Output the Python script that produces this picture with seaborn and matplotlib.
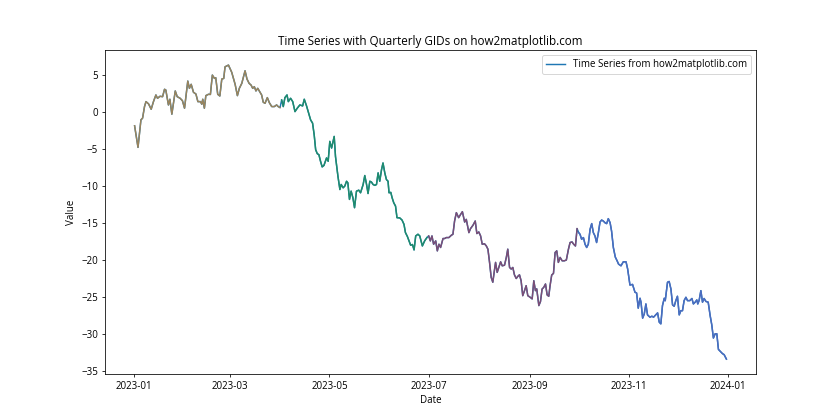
import matplotlib.pyplot as plt
import seaborn as sns
import pandas as pd

plt.rcParams['font.family'] = ['Open Sans', 'DejaVu Sans']

# day offsets from 2023-01-01 and values
day_offset = [
    0.2, 2.3, 4.1, 5.1, 6.3, 7.2, 8.8, 10.4, 11.8, 13.3, 14.3, 15.8, 17.4, 18.6, 19.4,
    21.0, 21.9, 23.1, 25.2, 26.4, 28.2, 29.6, 30.9, 32.9, 33.9, 35.0, 36.4, 37.9, 39.1,
    40.7, 41.5, 42.1, 43.1, 44.0, 45.6, 46.8, 48.0, 49.3, 50.1, 51.3, 52.6, 53.8, 55.0,
    55.8, 57.9, 59.9, 62.0, 63.4, 64.6, 66.1, 68.1, 69.3, 70.6, 71.8, 72.8, 73.8, 74.8,
    75.9, 77.1, 78.3, 79.3, 80.4, 81.8, 83.0, 84.5, 86.1, 87.5, 88.5, 89.6, 90.6, 91.6,
    92.6, 93.9, 94.7, 96.1, 97.4, 98.8, 100.2, 101.8, 103.5, 104.5, 105.9, 107.5, 108.4,
    109.6, 110.6, 111.5, 112.5, 113.5, 114.5, 115.5, 116.6, 118.2, 119.2, 120.2, 121.3,
    122.9, 123.7, 124.7, 125.2, 125.8, 126.4, 127.2, 128.4, 129.4, 130.5, 131.3, 132.3,
    133.3, 134.4, 135.4, 136.6, 138.0, 139.1, 140.7, 141.7, 142.8, 143.7, 144.8, 145.8,
    146.8, 147.9, 148.9, 149.9, 150.9, 152.0, 152.9, 154.0, 155.0, 156.0, 156.6, 157.7,
    158.5, 159.5, 160.6, 161.5, 163.2, 164.6, 165.8, 166.7, 167.9, 168.9, 169.9, 171.0,
    172.0, 173.0, 174.4, 175.5, 177.1, 178.5, 179.9, 181.0, 182.0, 183.0, 184.0, 185.3,
    186.3, 187.3, 188.3, 189.8, 190.8, 191.8, 193.4, 194.9, 195.9, 196.9, 198.0, 199.4,
    200.4, 201.7, 203.1, 204.1, 205.7, 206.7, 208.2, 209.6, 210.6, 211.8, 212.9, 213.9,
    215.3, 216.4, 217.4, 218.4, 219.4, 220.4, 221.5, 222.1, 223.1, 224.1, 225.2, 226.2,
    227.6, 228.7, 229.6, 230.7, 231.7, 232.7, 233.7, 234.8, 235.8, 236.8, 237.8, 238.8,
    239.9, 240.9, 241.9, 243.4, 244.6, 245.6, 246.6, 247.4, 248.7, 249.7, 250.7, 251.7,
    252.8, 253.8, 254.8, 255.6, 256.6, 257.7, 258.7, 259.7, 260.7, 261.8, 263.0, 264.4,
    265.6, 266.9, 267.9, 269.1, 270.1, 271.2, 272.2, 273.2, 274.0, 275.0, 276.1, 277.1,
    278.1, 279.1, 280.2, 281.2, 282.2, 283.2, 284.2, 285.3, 286.3, 287.3, 288.3, 289.6,
    290.4, 291.4, 292.5, 293.4, 294.5, 295.7, 296.8, 297.7, 299.2, 300.6, 302.3, 303.3,
    304.7, 306.3, 307.8, 308.8, 309.8, 310.9, 311.5, 312.5, 313.5, 314.5, 315.5, 317.0,
    318.2, 319.2, 320.2, 321.7, 322.7, 323.7, 324.7, 325.8, 326.4, 327.8, 328.8, 329.9,
    330.9, 331.9, 332.9, 333.9, 335.0, 336.0, 337.0, 338.0, 339.1, 340.1, 341.5, 342.8,
    343.7, 344.8, 345.8, 346.4, 347.2, 348.3, 349.3, 350.3, 351.4, 352.8, 354.0, 355.0,
    356.0, 357.1, 358.1, 359.1, 360.6, 361.6, 362.6, 364.0,
]
values = [
    -1.84, -4.76, -1.04, -0.81, 0.76, 1.43, 1.12, 0.40, 1.43, 2.33, 1.88, 2.15, 2.10, 3.10, 3.00,
    0.98, 1.75, -0.27, 2.87, 2.10, 1.88, 1.56, 0.54, 4.21, 3.23, 3.77, 2.69, 2.46, 1.43,
    1.43, 1.08, 1.75, 0.54, 2.24, 2.42, 2.40, 5.02, 4.57, 4.66, 2.42, 2.19, 4.48, 4.57,
    6.14, 6.37, 5.40, 3.77, 2.24, 3.23, 3.90, 5.60, 4.48, 3.90, 3.67, 3.23, 3.45, 2.87,
    3.23, 2.78, 2.33, 1.34, 1.21, 1.97, 1.30, 0.76, 0.76, 0.98, 0.76, 0.62, 1.66, 0.76,
    1.97, 2.33, 1.43, 1.88, 1.43, 0.08, 0.54, 0.98, 0.85, 1.75, 0.85, -0.36, -1.04,
    -1.48, -3.06, -5.07, -5.61, -5.75, -6.64, -7.40, -7.20, -6.19, -6.64, -3.95, -4.85,
    -3.28, -6.00, -7.77, -8.67, -9.56, -10.46, -9.78, -10.23, -10.00, -9.34, -9.56, -11.80,
    -10.68, -11.57, -12.92, -10.68, -10.55, -10.90, -9.78, -8.57, -9.78, -11.00, -9.34, -9.45,
    -9.78, -9.90, -9.78, -8.21, -9.34, -7.77, -6.87, -8.21, -9.11, -9.34, -10.90, -10.85,
    -11.57, -12.25, -12.70, -14.27, -14.30, -14.59, -15.17, -16.29, -16.82, -17.41, -18.00, -17.90,
    -18.63, -16.74, -16.51, -16.74, -18.09, -17.41, -16.96, -16.74, -17.41, -16.74, -17.86, -17.41,
    -18.76, -17.86, -18.30, -17.09, -17.09, -16.96, -16.96, -16.65, -16.51, -14.72, -13.59, -14.27,
    -13.90, -13.46, -14.86, -14.50, -16.29, -15.75, -15.30, -14.72, -16.42, -16.20, -16.74, -17.86,
    -17.80, -18.09, -18.53, -20.32, -22.34, -23.00, -21.22, -20.32, -21.67, -21.00, -20.24, -20.78,
    -20.70, -19.65, -18.53, -21.00, -21.22, -21.00, -22.00, -22.50, -22.20, -22.00, -22.80, -24.82,
    -24.14, -23.47, -24.82, -25.04, -25.26, -22.80, -24.14, -23.90, -26.16, -25.62, -23.92, -23.70,
    -23.24, -24.72, -24.90, -23.47, -22.03, -21.80, -18.98, -18.76, -20.32, -19.65, -20.10, -20.10,
    -20.00, -18.53, -17.63, -17.55, -17.86, -18.10, -15.75, -16.29, -16.51, -17.19, -16.96, -17.86,
    -18.30, -17.86, -15.84, -15.07, -16.29, -16.74, -17.63, -16.29, -14.86, -14.59, -14.72, -15.00,
    -15.07, -14.40, -14.95, -16.07, -18.30, -19.60, -20.10, -20.55, -20.78, -20.24, -20.24, -21.22,
    -23.38, -23.30, -24.36, -24.45, -26.51, -25.17, -25.70, -27.86, -27.30, -25.94, -27.42, -27.73,
    -27.60, -27.73, -27.50, -27.15, -28.40, -28.63, -26.16, -25.17, -25.50, -23.00, -22.90, -23.92,
    -26.07, -26.25, -25.49, -24.90, -27.42, -26.85, -26.85, -25.49, -25.04, -25.49, -25.49, -25.20,
    -25.94, -25.70, -25.40, -25.94, -25.49, -24.14, -25.70, -25.20, -25.60, -25.70, -27.51, -28.76,
    -30.55, -29.97, -29.97, -32.09, -32.44, -32.66, -32.80, -33.40,
]

quarter_starts = ['2023-01-01', '2023-04-01', '2023-07-01', '2023-10-01', '2024-01-01']
quarter_colors = ['#9a845c', '#1f8c6c', '#7c4d76', '#4b6cc0']

df = pd.DataFrame({
    'Date': pd.Timestamp('2023-01-01') + pd.to_timedelta(day_offset, unit='D'),
    'Value': values,
})

fig, ax = plt.subplots(figsize=(12, 6), dpi=70)

# full series underneath, this one carries the legend entry
sns.lineplot(data=df, x='Date', y='Value', ax=ax, color='#1f77b4',
             label='Time Series from how2matplotlib.com')

# quarter segments on top
for i, col in enumerate(quarter_colors):
    q = df[(df['Date'] >= quarter_starts[i]) & (df['Date'] < quarter_starts[i + 1])]
    sns.lineplot(data=q, x='Date', y='Value', ax=ax, color=col, legend=False)

ax.set_title('Time Series with Quarterly GIDs on how2matplotlib.com')
ax.set_xlabel('Date')
ax.set_ylabel('Value')
ax.legend(loc='upper right')

plt.savefig('out.png', dpi=70)
plt.close()
